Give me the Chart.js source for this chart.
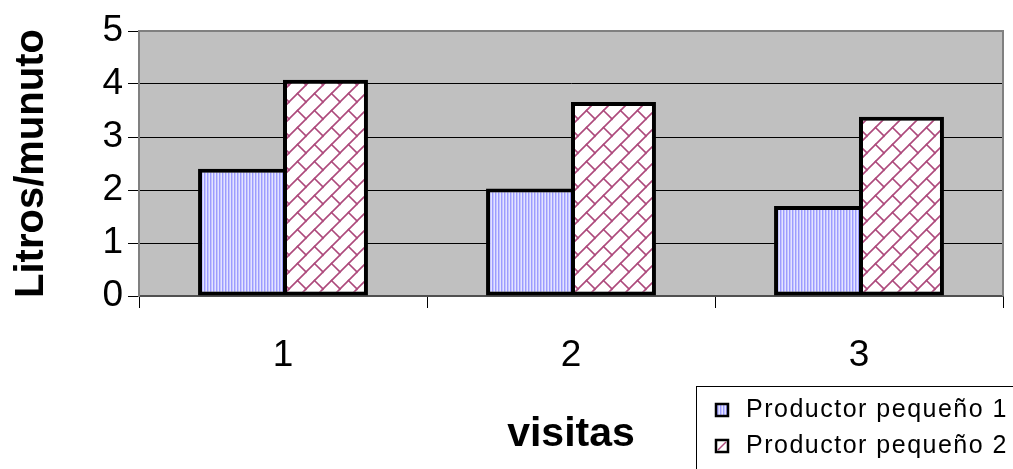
<!DOCTYPE html>
<html>
<head>
<meta charset="utf-8">
<script src="https://cdn.jsdelivr.net/npm/chart.js@4/dist/chart.umd.min.js"></script>
<style>
  html, body { margin: 0; padding: 0; background: #ffffff; }
  canvas { display: block; }
</style>
</head>
<body>
<canvas id="chart" width="1013" height="469"></canvas>
<script>
// Flow measured per visit for two small producers
const categories = ['1', '2', '3'];
const seriesNames = ['Productor pequeño 1', 'Productor pequeño 2'];
const productor1 = [2.4, 2.03, 1.7];
const productor2 = [4.08, 3.66, 3.38];
const yMin = 0;
const yMax = 5;
const yStep = 1;
const yTitle = 'Litros/munuto';
const xTitle = 'visitas';

const FONT = '"Liberation Sans", Arial, sans-serif';

// Fine vertical blue stripes
function stripePattern() {
  const c = document.createElement('canvas');
  c.width = 3; c.height = 4;
  const g = c.getContext('2d');
  const cols = ['#9c9cff', '#c4c4ff', '#e4e4ff'];
  cols.forEach((col, i) => { g.fillStyle = col; g.fillRect(i, 0, 1, 4); });
  return g.createPattern(c, 'repeat');
}

// Diagonal brick pattern in plum on white
function brickPattern() {
  const s = 17;
  const c = document.createElement('canvas');
  c.width = s; c.height = s;
  const g = c.getContext('2d');
  g.fillStyle = '#ffffff';
  g.fillRect(0, 0, s, s);
  g.strokeStyle = '#ad4a7c';
  g.lineWidth = 1.6;
  g.lineCap = 'square';
  // long diagonals (lower-left to upper-right)
  [0, s, 2 * s].forEach(k => {
    g.beginPath(); g.moveTo(k - s - 2, s + 2); g.lineTo(k + 2, -2); g.stroke();
  });
  // short joints between rows, staggered
  [[0, 0], [-s, 0], [0, -s], [-s, -s]].forEach(([dx, dy]) => {
    g.beginPath(); g.moveTo(s / 2 + dx, s / 2 + dy); g.lineTo(s + dx, s + dy); g.stroke();
  });
  return g.createPattern(c, 'repeat');
}

const fills = [stripePattern(), brickPattern()];

const plotFrame = {
  id: 'plotFrame',
  beforeDraw(chart) {
    const { ctx, chartArea: a } = chart;
    ctx.save();
    ctx.fillStyle = '#c0c0c0';
    ctx.fillRect(a.left, a.top, a.right - a.left, a.bottom - a.top);
    ctx.restore();
  },
  beforeDatasetsDraw(chart) {
    const { ctx, chartArea: a } = chart;
    ctx.save();
    ctx.strokeStyle = '#808080';
    ctx.lineWidth = 2;
    ctx.beginPath();
    ctx.moveTo(a.left, a.top);
    ctx.lineTo(a.right, a.top);
    ctx.lineTo(a.right, a.bottom);
    ctx.stroke();
    ctx.restore();
  }
};

const boxLegend = {
  id: 'boxLegend',
  afterDraw(chart) {
    const { ctx } = chart;
    ctx.save();
    ctx.fillStyle = '#ffffff';
    ctx.fillRect(697, 387, 330, 100);
    ctx.strokeStyle = '#000000';
    ctx.lineWidth = 1;
    ctx.strokeRect(696.5, 386.5, 330, 100);
    chart.data.datasets.forEach((ds, i) => {
      const cy = 410 + i * 36;
      ctx.fillStyle = i === 0 ? fills[0] : '#ffffff';
      ctx.fillRect(716, cy - 6, 12, 12);
      if (i === 1) {
        ctx.strokeStyle = '#ad4a7c';
        ctx.lineWidth = 1.5;
        ctx.beginPath(); ctx.moveTo(718, cy + 4); ctx.lineTo(726, cy - 4); ctx.stroke();
      }
      ctx.strokeStyle = '#000000';
      ctx.lineWidth = 2.5;
      ctx.strokeRect(716, cy - 6, 12, 12);
      ctx.fillStyle = '#000000';
      ctx.font = '25px ' + FONT;
      ctx.letterSpacing = '1.5px';
      ctx.textBaseline = 'middle';
      ctx.textAlign = 'left';
      ctx.fillText(ds.label, 746, cy);
    });
    ctx.restore();
  }
};

new Chart(document.getElementById('chart'), {
  type: 'bar',
  data: {
    labels: categories,
    datasets: [
      {
        label: seriesNames[0],
        data: productor1,
        backgroundColor: fills[0],
        borderColor: '#000000',
        borderWidth: { top: 4, left: 4, bottom: 4, right: 0 },
        borderSkipped: false
      },
      {
        label: seriesNames[1],
        data: productor2,
        backgroundColor: fills[1],
        borderColor: '#000000',
        borderWidth: 4,
        borderSkipped: false
      }
    ]
  },
  options: {
    responsive: false,
    animation: false,
    devicePixelRatio: 1,
    layout: { padding: { top: 31, right: 10, bottom: 0, left: 0 } },
    datasets: { bar: { barPercentage: 1, categoryPercentage: 0.59 } },
    plugins: {
      legend: { display: false },
      tooltip: { enabled: false }
    },
    scales: {
      x: {
        grid: { offset: true, drawOnChartArea: false, drawTicks: true, tickLength: 12, color: '#000000', lineWidth: 1 },
        border: { display: true, color: '#505050', width: 2 },
        ticks: { color: '#000000', font: { family: FONT, size: 37 }, padding: 26 },
        title: {
          display: true, text: xTitle, color: '#000000',
          font: { family: FONT, size: 41, weight: 'bold' },
          padding: { top: 0, bottom: 10 }
        },
        afterFit(scale) { scale.height = 173; }
      },
      y: {
        min: yMin,
        max: yMax,
        ticks: { stepSize: yStep, color: '#000000', font: { family: FONT, size: 37 }, padding: 5 },
        grid: {
          color: (c) => (c.tick && c.tick.value === yMax ? '#808080' : '#000000'),
          tickColor: '#000000',
          tickLength: 11,
          lineWidth: 1
        },
        border: { display: true, color: '#808080', width: 2 },
        title: {
          display: true, text: yTitle, color: '#000000',
          font: { family: FONT, size: 40, weight: 'bold' },
          padding: { top: 8, bottom: 0 }
        },
        afterFit(scale) { scale.width = 139; }
      }
    }
  },
  plugins: [plotFrame, boxLegend]
});
</script>
</body>
</html>
